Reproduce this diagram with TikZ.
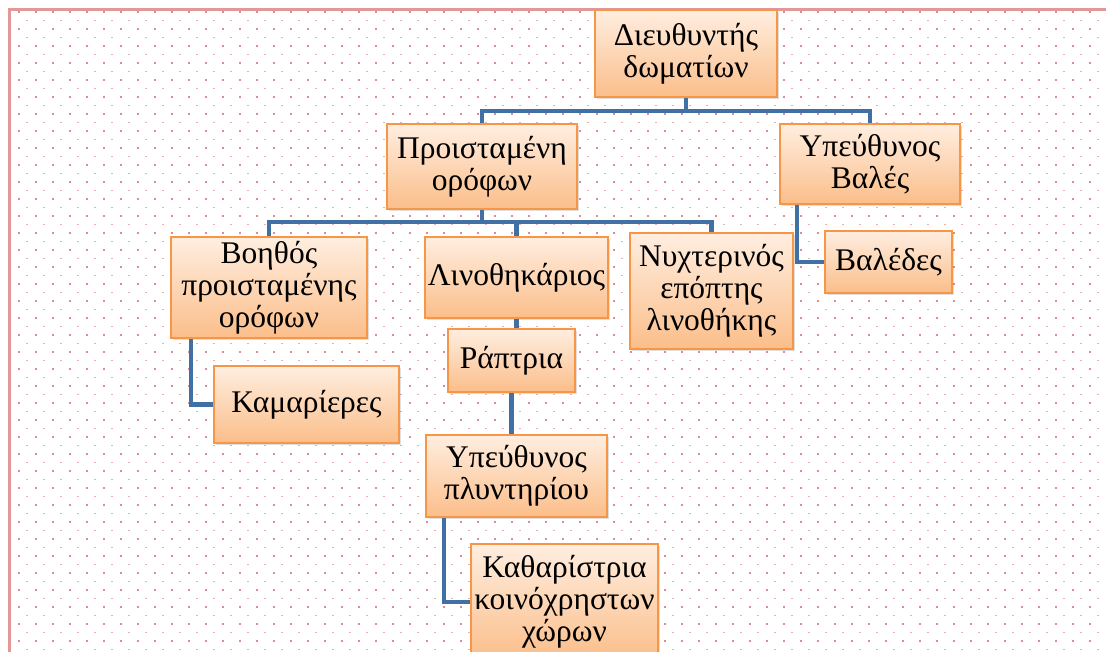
\documentclass[tikz,border=0pt]{standalone}
\usepackage{fontspec}
\setmainfont{Liberation Serif}
\usetikzlibrary{shadows}
\definecolor{dotred}{RGB}{224,140,140}
\definecolor{dotlight}{RGB}{236,172,172}
\definecolor{framered}{RGB}{226,152,152}
\definecolor{boxtop}{RGB}{255,238,224}
\definecolor{boxbot}{RGB}{251,190,138}
\definecolor{boxline}{RGB}{247,150,70}
\definecolor{linkblue}{RGB}{65,112,164}

\begin{document}
\begin{tikzpicture}[x=1pt,y=-1pt,
	post/.style={draw=boxline,line width=2.5pt,top color=boxtop,bottom color=boxbot,align=center,inner sep=0pt,
		font=\fontsize{31.5}{32}\selectfont,drop shadow={opacity=0.25,shadow xshift=2pt,shadow yshift=-2pt}},
	link/.style={draw=linkblue,line width=4.5pt}]

\useasboundingbox (0,0) rectangle (1106,652);
\clip (0,0) rectangle (1106,652);
\fill[white] (0,0) rectangle (1106,652);
\foreach \i in {0,...,64}
	\foreach \j in {0,...,37}{
		\fill[dotred] (18+17*\i,11+17*\j) rectangle ++(2,2);
		\fill[dotlight] (9+17*\i,20+17*\j) rectangle ++(2,1);
	}
\draw[framered,line width=3pt] (9,652) -- (9,10) -- (1106,10);

\node[post,minimum width=182pt,minimum height=87pt](dir) at (686,53.5){Διευθυντής\\δωματίων};
\node[post,minimum width=190pt,minimum height=85pt](proist) at (482,166.5){Προισταμένη\\ορόφων};
\node[post,minimum width=180pt,minimum height=80pt](ypvales) at (870,164){Υπεύθυνος\\Βαλές};
\node[post,minimum width=127pt,minimum height=62pt](valedes) at (888.5,262){Βαλέδες};
\node[post,minimum width=196pt,minimum height=101pt](voithos) at (269,287.5){Βοηθός\\προισταμένης\\ορόφων};
\node[post,minimum width=185pt,minimum height=77pt](kamar) at (306.5,404.5){Καμαρίερες};
\node[post,minimum width=183pt,minimum height=81pt](linoth) at (516.5,277.5){Λινοθηκάριος};
\node[post,minimum width=163pt,minimum height=116pt](nyxt) at (711.5,291){Νυχτερινός\\επόπτης\\λινοθήκης};
\node[post,minimum width=127pt,minimum height=63pt](raptria) at (511.5,360.5){Ράπτρια};
\node[post,minimum width=181pt,minimum height=82pt](yplyn) at (516.5,476){Υπεύθυνος\\πλυντηρίου};
\node[post,minimum width=187pt,minimum height=116pt](kathar) at (564.5,602){Καθαρίστρια\\κοινόχρηστων\\χώρων};

\draw[link] (dir.south) -- ++(0,13) -| (proist.north);
\draw[link] (dir.south) -- ++(0,13) -| (ypvales.north);
\draw[link] (proist.south) -- ++(0,12) -| (voithos.north);
\draw[link] (proist.south) -- ++(0,12) -| (linoth.north);
\draw[link] (proist.south) -- ++(0,12) -| (nyxt.north);
\draw[link] ([xshift=18pt]ypvales.south west) |- (valedes.west);
\draw[link] ([xshift=21pt]voithos.south west) |- (kamar.west);
\draw[link] (linoth.south) -- (linoth.south |- raptria.north);
\draw[link] (raptria.south) -- (raptria.south |- yplyn.north);
\draw[link] ([xshift=19pt]yplyn.south west) |- (kathar.west);

\end{tikzpicture}
\end{document}
